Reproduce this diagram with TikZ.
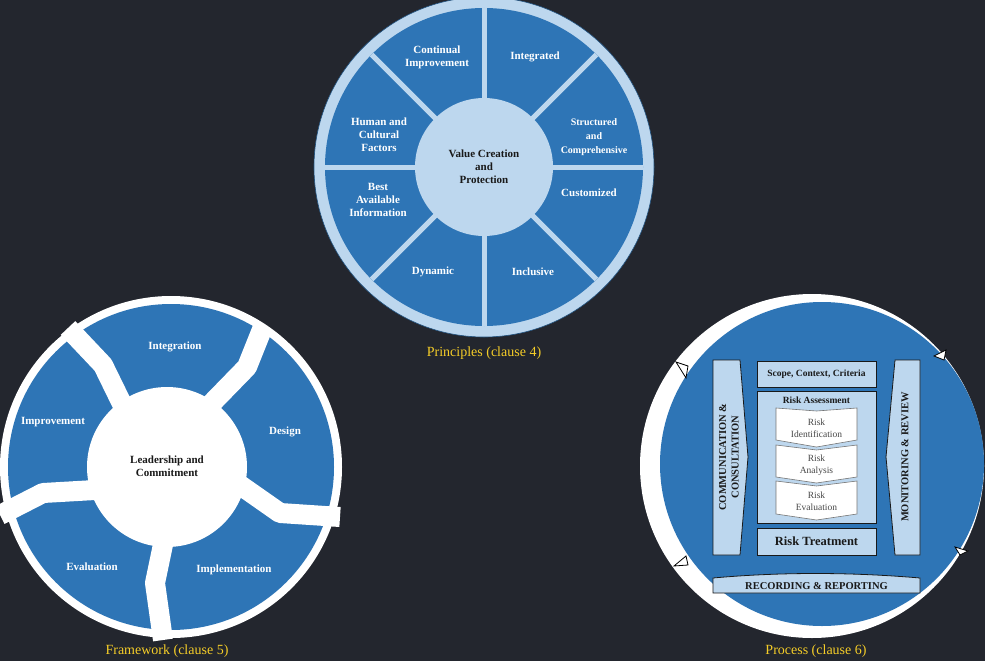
\documentclass[tikz,border=0pt]{standalone}
\usepackage{fontspec}
\setmainfont{Liberation Serif}
\begin{document}
\definecolor{bg}{RGB}{35,38,46}
\definecolor{rb}{RGB}{46,117,182}
\definecolor{lb}{RGB}{189,215,238}
\definecolor{yl}{RGB}{245,205,40}
\definecolor{dk}{RGB}{25,25,25}
\begin{tikzpicture}[x=1pt,y=-1pt,
  wt/.style={text=white,font=\bfseries\fontsize{11}{13}\selectfont,align=center},
  bt/.style={text=dk,font=\bfseries\fontsize{11}{13}\selectfont,align=center},
  captxt/.style={text=yl,font=\fontsize{14}{16}\selectfont},
  pbox/.style={fill=lb,draw=dk,line width=0.8pt},
  chev/.style={fill=white,draw=dk!60,line width=0.6pt},
  handle/.style={fill=white,draw=black,line width=0.8pt}]
\fill[bg] (0,0) rectangle (985,661);
\useasboundingbox (0,0) rectangle (985,661);
% ---------- Principles ----------
\coordinate (P) at (484,167);
\fill[lb] (P) circle[radius=170];
\draw[rb!70!black,line width=0.6pt] (P) circle[radius=170];
\fill[rb] (P) circle[radius=159];
\foreach \a in {0,45,...,315}
  \draw[lb,line width=5pt] (P) -- ++(\a:-159);
\fill[lb] (P) circle[radius=69];
\node[bt] (pc) at (P) {Value Creation\\and\\Protection};
\node[wt] (p1) at (437,57) {Continual\\Improvement};
\node[wt] (p2) at (535,57) {Integrated};
\node[wt,font=\bfseries\fontsize{10}{14}\selectfont] (p3) at (594,137) {Structured\\and\\Comprehensive};
\node[wt] (p4) at (589,193) {Customized};
\node[wt] (p5) at (533,272) {Inclusive};
\node[wt] (p6) at (433,272) {Dynamic};
\node[wt] (p7) at (378,200) {Best\\Available\\Information};
\node[wt] (p8) at (379,135) {Human and\\Cultural\\Factors};
\node[captxt] (pcap) at (484,353) {Principles (clause 4)};
% ---------- Framework ----------
\coordinate (F) at (171,467);
\fill[white] (F) circle[radius=171];
\fill[rb] (F) circle[radius=163];
\draw[white,line width=20pt,line join=round] (68,328) -- (103,365) -- (125,410);
\draw[white,line width=20pt,line join=round] (263,327) -- (247,367) -- (210,405);
\draw[white,line width=20pt,line join=round] (240,485) -- (280,513) -- (340,517);
\draw[white,line width=20pt,line join=round] (165,535) -- (155,583) -- (163,640);
\draw[white,line width=20pt,line join=round] (95,490) -- (43,493) -- (0,515);
\fill[white] (167,467) circle[radius=80];
\node[bt] (fc) at (167,466) {Leadership and\\Commitment};
\node[wt] (f1) at (175,347) {Integration};
\node[wt] (f2) at (285,432) {Design};
\node[wt] (f3) at (234,570) {Implementation};
\node[wt] (f4) at (92,567) {Evaluation};
\node[wt] (f5) at (53,422) {Improvement};
\node[captxt] (fcap) at (167,651) {Framework (clause 5)};
% ---------- Process ----------
\fill[white] (812,466) circle[radius=172];
\fill[rb] (822,464) circle[radius=162];
\draw[pbox] (713,360) -- (740,360) -- (748,457) -- (740,555) -- (713,555) -- cycle;
\draw[pbox] (895,360) -- (920,360) -- (920,555) -- (895,555) -- (886,457) -- cycle;
\node[bt,rotate=90,font=\bfseries\fontsize{10.5}{12.5}\selectfont] (cc) at (729,457) {COMMUNICATION \&\\CONSULTATION};
\node[bt,rotate=90,font=\bfseries\fontsize{10.5}{12.5}\selectfont] (mr) at (905,457) {MONITORING \& REVIEW};
\draw[pbox] (757,361) rectangle (876,387);
\node[bt,font=\bfseries\fontsize{9.5}{11}\selectfont] (sc) at (816.5,374) {Scope, Context, Criteria};
\draw[pbox] (757,391) rectangle (876,523);
\node[bt,font=\bfseries\fontsize{9.5}{11}\selectfont] (ra) at (816.5,400) {Risk Assessment};
\draw[chev] (776,408) -- (816.5,411) -- (857,408) -- (857,440) -- (816.5,447) -- (776,440) -- cycle;
\draw[chev] (776,445) -- (816.5,450) -- (857,445) -- (857,477) -- (816.5,483) -- (776,477) -- cycle;
\draw[chev] (776,481) -- (816.5,486) -- (857,481) -- (857,514) -- (816.5,520) -- (776,514) -- cycle;
\node[text=dk!80,align=center,font=\fontsize{9.5}{12}\selectfont] (ri) at (816.5,428) {Risk\\Identification};
\node[text=dk!80,align=center,font=\fontsize{9.5}{12}\selectfont] (ran) at (816.5,465) {Risk\\Analysis};
\node[text=dk!80,align=center,font=\fontsize{9.5}{12}\selectfont] (re) at (816.5,501) {Risk\\Evaluation};
\draw[pbox] (757,528) rectangle (876,555);
\node[bt,font=\bfseries\fontsize{12.5}{14}\selectfont] (rt) at (816.5,541.5) {Risk Treatment};
\draw[pbox] (713,578) .. controls (780,572) and (850,572) .. (920,578) -- (920,593) -- (713,593) -- cycle;
\node[bt,font=\bfseries\fontsize{10.5}{12}\selectfont] (rr) at (816.5,586) {RECORDING \& REPORTING};
\draw[handle] (676,362) -- (688,366) -- (686,378) -- cycle;
\draw[handle] (934,356) -- (946,350) -- (944,360) -- cycle;
\draw[handle] (674,566) -- (686,556) -- (688,565) -- cycle;
\draw[handle] (955,547) -- (960,555) -- (968,551) -- cycle;
\node[captxt] (pcap2) at (816,651) {Process (clause 6)};
\end{tikzpicture}
\end{document}
